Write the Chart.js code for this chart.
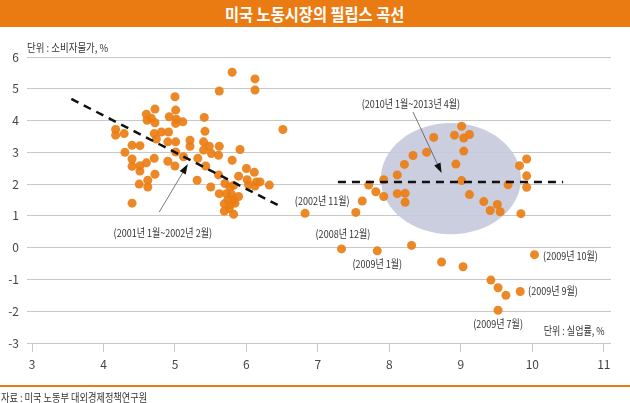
<!DOCTYPE html>
<html>
<head>
<meta charset="utf-8">
<script src="https://cdn.jsdelivr.net/npm/chart.js@4"></script>
<style>
  body { margin: 0; width: 630px; height: 403px; background: #fff; overflow: hidden; position: relative;
         font-family: "Noto Sans CJK KR", sans-serif; }
  #title { position: absolute; left: 0; top: 0; width: 630px; height: 27px; background: #E97B12;
           color: #fff; font-weight: bold; font-size: 17px; line-height: 27px; text-align: center; }
  #title span { display: inline-block; transform: scaleX(0.9); }
  #wrap { position: absolute; left: 0; top: 0; width: 630px; height: 403px; }
  #unitY { position: absolute; left: 27px; top: 39px; font-size: 11px; color: #333; transform: scaleX(0.86); transform-origin: left; white-space: nowrap; }
  #rule { position: absolute; left: 0; top: 385px; width: 630px; height: 2px; background: #E97B12; }
  #src { position: absolute; left: 1px; top: 389px; font-size: 11.5px; color: #333; transform: scaleX(0.8); transform-origin: left; white-space: nowrap; }
</style>
</head>
<body>
<div id="wrap"><canvas id="myChart" width="630" height="403"></canvas></div>
<div id="title"><span>미국 노동시장의 필립스 곡선</span></div>
<div id="unitY">단위 : 소비자물가, %</div>
<div id="rule"></div>
<div id="src">자료 : 미국 노동부 대외경제정책연구원</div>
<script>
// 실업률(x), 소비자물가 상승률(y)
const unemployment = [
  4.17, 4.17, 4.29, 4.30, 4.40, 4.51, 4.40, 4.40, 4.51, 4.51, 4.50, 4.40,
  4.60, 4.61, 4.67, 4.72, 4.72, 4.71, 4.74, 4.81, 4.91, 4.90, 5.01, 4.60,
  4.71, 4.62, 4.62, 4.72, 4.90, 5.00, 5.01, 5.00, 5.01, 4.92, 5.01, 5.11,
  5.02, 5.12, 5.21, 5.21, 5.32, 5.31, 5.41, 5.42, 5.40, 5.40, 5.48, 5.51,
  5.62, 5.61, 5.43, 5.50, 5.61, 5.62, 5.62, 5.80, 6.12, 6.12, 5.91, 5.80,
  5.89, 6.00, 6.11, 6.01, 6.03, 6.14, 6.12, 6.19, 6.32, 5.70, 5.77, 5.82,
  5.72, 5.79, 5.89, 5.69, 5.77, 5.84, 5.69, 5.76, 5.82, 5.74, 5.82, 6.51,
  6.82, 7.53, 7.62, 7.71, 7.81, 7.92, 7.92, 8.11, 8.11, 8.22, 8.22, 8.21,
  8.33, 8.52, 8.62, 8.91, 9.01, 9.04, 9.12, 9.04, 8.93, 9.01, 9.12, 9.32,
  9.41, 9.51, 9.55, 9.66, 9.82, 9.92, 9.92, 9.92, 9.84,
  7.33, 7.83, 8.31, 8.73, 9.03, 9.42, 9.52, 9.63, 9.83, 9.52, 10.03
];
const inflation = [
  3.72, 3.54, 3.59, 3.00, 3.22, 3.21, 2.79, 2.56, 2.58, 2.41, 2.00, 1.40,
  4.20, 4.01, 4.07, 4.36, 3.93, 3.59, 3.42, 3.64, 3.64, 3.33, 3.33, 2.67,
  2.81, 2.12, 1.91, 2.31, 2.72, 2.57, 3.01, 4.75, 4.33, 4.12, 3.91, 3.96,
  4.04, 2.86, 3.38, 3.19, 2.81, 2.12, 4.10, 3.66, 3.33, 3.07, 3.19, 2.96,
  3.19, 2.91, 2.57, 1.91, 2.29, 1.70, 4.93, 5.52, 5.31, 4.96, 3.09, 2.75,
  2.25, 2.49, 2.37, 2.14, 1.98, 2.07, 1.94, 2.07, 1.97, 2.02, 1.91, 1.96,
  1.70, 1.68, 1.61, 1.38, 1.36, 1.40, 1.15, 1.23, 1.05, 1.51, 1.51, 3.72,
  1.08, 1.11, 1.47, 1.97, 1.76, 2.14, 1.61, 2.29, 1.70, 1.71, 1.43, 2.62,
  2.90, 3.00, 3.47, 3.54, 3.82, 3.45, 3.56, 3.04, 2.63, 2.11, 1.67, 1.45,
  1.17, 1.36, 1.13, 1.98, 2.58, 2.79, 2.26, 1.90, 1.07,
  -0.04, -0.10, 0.07, -0.45, -0.60, -1.02, -1.26, -1.50, -1.38, -1.97, -0.22
];

// 추세선 (점선)
const trend2001X = [3.55, 6.50];
const trend2001Y = [4.68, 1.27];
const trend2010X = [7.28, 10.43];
const trend2010Y = [2.07, 2.07];

const xTicks = [3, 4, 5, 6, 7, 8, 9, 10, 11];
const yTicks = [-3, -2, -1, 0, 1, 2, 3, 4, 5, 6];

// 주석
const noteTexts = ['(2002년 11월)', '(2008년 12월)', '(2009년 1월)', '(2009년 10월)', '(2009년 9월)',
                   '(2009년 7월)', '단위 : 실업률, %', '(2010년 1월~2013년 4월)', '(2001년 1월~2002년 2월)'];
const noteX = [7.06, 7.35, 7.83, 10.15, 9.94, 9.52, 11.01, 8.30, 4.83];
const noteY = [1.47, 0.43, -0.51, -0.26, -1.36, -2.40, -2.62, 4.52, 0.46];
const noteAlign = ['center', 'center', 'center', 'left', 'left', 'center', 'right', 'center', 'center'];

// 화살표: [시작x, 시작y, 끝x, 끝y]
const arrows = [[4.78, 1.12, 5.18, 2.63], [8.33, 4.27, 8.73, 2.35]];

// 타원: 중심x, 중심y, 반지름x, 반지름y
const ellipse2010 = [8.86, 2.17, 0.98, 1.75];

const orange = 'rgba(234,126,20,0.92)';

function toXY(xs, ys) {
  return xs.map(function (v, i) { return {x: v, y: ys[i]}; });
}

const ellipsePlugin = {
  id: 'ellipse2010',
  beforeDatasetsDraw(chart) {
    const ctx = chart.ctx, sx = chart.scales.x, sy = chart.scales.y;
    const cx = sx.getPixelForValue(ellipse2010[0]);
    const cy = sy.getPixelForValue(ellipse2010[1]);
    const rx = sx.getPixelForValue(ellipse2010[0] + ellipse2010[2]) - cx;
    const ry = cy - sy.getPixelForValue(ellipse2010[1] + ellipse2010[3]);
    ctx.save();
    ctx.fillStyle = 'rgba(197,201,220,0.9)';
    ctx.beginPath();
    ctx.ellipse(cx, cy, rx, ry, 0, 0, Math.PI * 2);
    ctx.fill();
    ctx.restore();
  }
};

const notesPlugin = {
  id: 'notes',
  afterDraw(chart) {
    const ctx = chart.ctx, sx = chart.scales.x, sy = chart.scales.y;
    ctx.save();
    // 화살표
    arrows.forEach(function (a) {
      const x1 = sx.getPixelForValue(a[0]), y1 = sy.getPixelForValue(a[1]);
      const x2 = sx.getPixelForValue(a[2]), y2 = sy.getPixelForValue(a[3]);
      const ang = Math.atan2(y2 - y1, x2 - x1);
      ctx.strokeStyle = '#555';
      ctx.lineWidth = 0.8;
      ctx.beginPath();
      ctx.moveTo(x1, y1);
      ctx.lineTo(x2 - 6 * Math.cos(ang), y2 - 6 * Math.sin(ang));
      ctx.stroke();
      ctx.fillStyle = '#111';
      ctx.beginPath();
      ctx.moveTo(x2, y2);
      ctx.lineTo(x2 - 10 * Math.cos(ang) + 3.5 * Math.sin(ang), y2 - 10 * Math.sin(ang) - 3.5 * Math.cos(ang));
      ctx.lineTo(x2 - 10 * Math.cos(ang) - 3.5 * Math.sin(ang), y2 - 10 * Math.sin(ang) + 3.5 * Math.cos(ang));
      ctx.closePath();
      ctx.fill();
    });
    // 글자 (좁은 글꼴 흉내)
    ctx.fillStyle = '#333';
    ctx.font = '11px "Noto Sans CJK KR"';
    ctx.textBaseline = 'middle';
    const squeeze = 0.82;
    noteTexts.forEach(function (t, i) {
      const px = sx.getPixelForValue(noteX[i]);
      const py = sy.getPixelForValue(noteY[i]);
      ctx.save();
      ctx.translate(px, py);
      ctx.scale(squeeze, 1);
      ctx.textAlign = noteAlign[i];
      ctx.fillText(t, 0, 0);
      ctx.restore();
    });
    ctx.restore();
  }
};

const data = {
  datasets: [{
    label: '2001년 추세',
    type: 'line',
    data: toXY(trend2001X, trend2001Y),
    borderColor: '#111',
    borderWidth: 2.5,
    borderDash: [8, 6],
    pointRadius: 0,
    fill: false
  }, {
    label: '2010년 추세',
    type: 'line',
    data: toXY(trend2010X, trend2010Y),
    borderColor: '#111',
    borderWidth: 2.5,
    borderDash: [8, 6],
    pointRadius: 0,
    fill: false
  }, {
    label: '월별',
    data: toXY(unemployment, inflation),
    backgroundColor: orange,
    borderWidth: 0,
    pointRadius: 4.5
  }]
};

const config = {
  type: 'scatter',
  data: data,
  plugins: [ellipsePlugin, notesPlugin],
  options: {
    responsive: false,
    animation: false,
    layout: {padding: {top: 57, right: 19, left: 0, bottom: 0}},
    plugins: {legend: {display: false}, tooltip: {enabled: false}},
    scales: {
      x: {
        type: 'linear',
        min: 2.93,
        max: 11.1,
        afterBuildTicks: function (scale) { scale.ticks = xTicks.map(function (v) { return {value: v}; }); },
        afterFit: function (scale) { scale.height = 60; },
        border: {display: false},
        grid: {drawOnChartArea: false, drawTicks: true, tickLength: 9, color: '#c8c8c8'},
        ticks: {color: '#444', font: {family: '"Noto Sans CJK KR"', size: 12}, padding: 5, maxRotation: 0}
      },
      y: {
        min: -3,
        max: 6,
        afterBuildTicks: function (scale) { scale.ticks = yTicks.map(function (v) { return {value: v}; }); },
        afterFit: function (scale) { scale.width = 27; },
        border: {display: false},
        grid: {color: '#c8c8c8', drawTicks: false, lineWidth: 1},
        ticks: {color: '#444', font: {family: '"Noto Sans CJK KR"', size: 12}, padding: 8}
      }
    }
  }
};

const myChart = new Chart(document.getElementById('myChart'), config);
</script>
</body>
</html>
